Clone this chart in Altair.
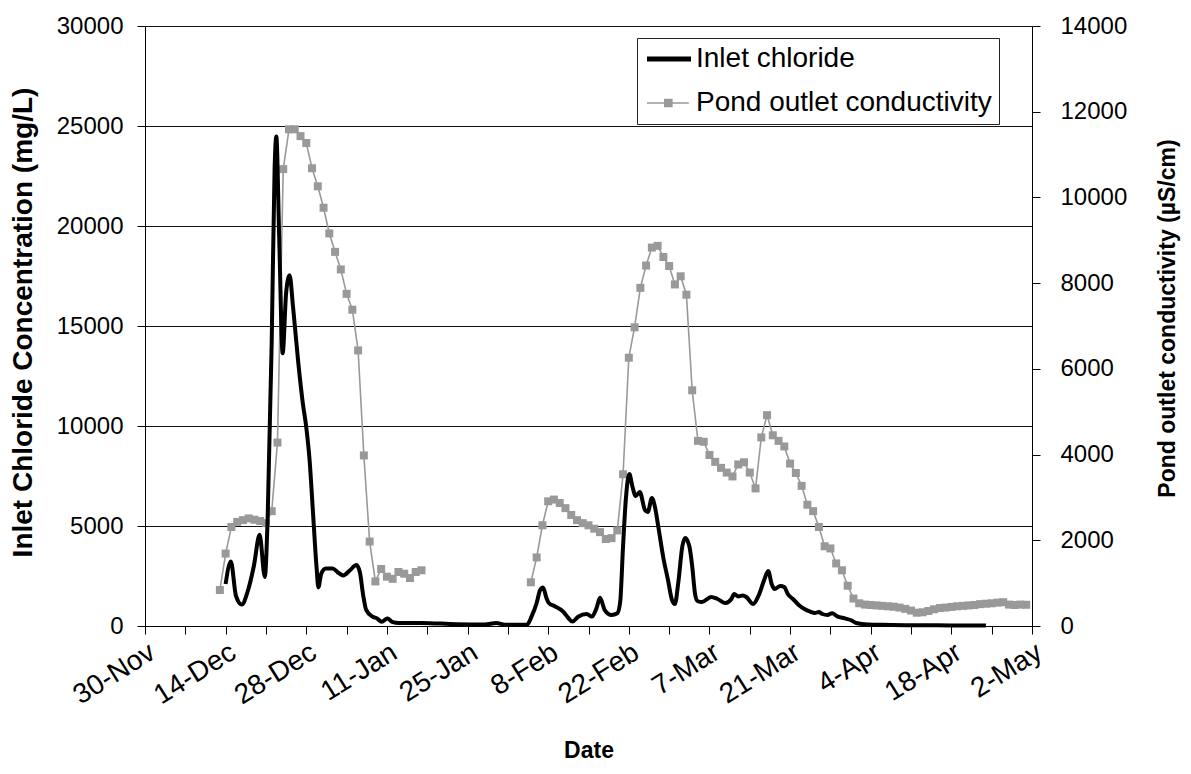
import altair as alt
import pandas as pd

# Day offsets are counted from 30-Nov-2007 (day 0); the span runs to 2-May-2008 (day 154)
T0_MS = 1196380800000  # 30-Nov-2007 00:00 UTC

SERIES = ["Inlet chloride", "Pond outlet conductivity"]

# Inlet chloride concentration (mg/L), smoothed line
chl_day = [14.0, 14.9, 15.8, 16.8, 17.8, 18.9, 19.9, 20.8, 21.3, 22.0,
           22.5, 22.8, 23.3, 23.9, 24.5, 25.1, 25.7, 26.6, 27.4, 28.0,
           28.6, 29.1, 29.8, 30.1, 30.6, 31.4, 32.6, 33.4, 34.4, 35.6,
           36.7, 37.3, 37.9, 38.4, 39.5, 40.3, 41.1, 42.1, 42.9, 44.1,
           48.0, 54.0, 59.0, 61.0, 62.5, 66.3, 67.1, 68.0, 68.6, 69.1,
           69.7, 70.1, 71.2, 72.6, 73.5, 74.2, 75.2, 76.7, 77.6, 78.4,
           79.0, 79.8, 81.0, 82.0, 82.5, 83.0, 83.5, 84.1, 84.6, 85.2,
           85.9, 86.8, 87.3, 88.0, 88.5, 89.1, 90.0, 90.8, 91.5, 92.0,
           92.6, 93.3, 93.8, 94.5, 95.0, 95.5, 95.9, 96.7, 98.3, 99.4,
           100.8, 101.8, 102.3, 103.0, 103.8, 104.4, 105.6, 106.5, 107.5, 108.2,
           108.8, 109.3, 110.3, 111.0, 111.6, 112.5, 113.5, 114.5, 115.5, 116.3,
           117.0, 117.6, 118.5, 119.3, 120.2, 121.5, 122.5, 123.5, 125.0, 128.0,
           133.0, 140.0, 146.0]
chl_val = [2100, 3220, 1500, 1070, 1700, 3000, 4560, 2450, 5460, 14240,
           22850, 24480, 19400, 13640, 16650, 17540, 15960, 13200, 11140, 9940,
           8210, 5980, 2880, 1930, 2620, 2880, 2880, 2700, 2530, 2790,
           3050, 2700, 1500, 810, 465, 380, 210, 380, 210, 155,
           155, 86, 70, 150, 60, 60, 465, 1150, 1800, 1930,
           1400, 1150, 980, 720, 400, 220, 465, 600, 470, 900,
           1410, 810, 550, 640, 1200, 4000, 6400, 7600, 7000, 6500,
           6700, 5800, 5700, 6400, 6000, 5000, 3400, 2300, 1300, 1100,
           2200, 4000, 4400, 4000, 3000, 1600, 1250, 1200, 1450, 1350,
           1150, 1350, 1600, 1480, 1530, 1450, 1100, 1500, 2300, 2750,
           2100, 1850, 2000, 1950, 1600, 1350, 1050, 850, 720, 650,
           700, 600, 550, 640, 480, 380, 300, 150, 90, 60,
           40, 30, 30]

# Pond outlet conductivity (uS/cm), daily readings in two runs
cond1_start = 13
cond1_val = [840, 1690, 2310, 2430, 2470, 2510, 2480, 2450, 2400, 2680,
             4280, 10660, 11590, 11590, 11430, 11270, 10680, 10260, 9760, 9160,
             8730, 8320, 7750, 7380, 6430, 3980, 1970, 1040, 1330, 1150,
             1100, 1260, 1220, 1120, 1260, 1300]
cond2_start = 67
cond2_val = [1020, 1600, 2350, 2910, 2950, 2870, 2750, 2590, 2470, 2400,
             2350, 2270, 2190, 2030, 2050, 2230, 3540, 6260, 6970, 7890,
             8410, 8830, 8870, 8610, 8400, 7970, 8160, 7730, 5500, 4320,
             4300, 3990, 3830, 3690, 3580, 3490, 3770, 3820, 3580, 3210,
             4400, 4920, 4450, 4320, 4190, 3790, 3570, 3270, 2830, 2680,
             2310, 1860, 1810, 1460, 1300, 940, 640, 530, 500, 490,
             480, 470, 460, 450, 430, 400, 360, 310, 320, 350,
             390, 420, 430, 445, 460, 470, 480, 490, 510, 520,
             530, 545, 555, 500, 490, 500, 495]

left_ticks = [0, 5000, 10000, 15000, 20000, 25000, 30000]
right_ticks = [0, 2000, 4000, 6000, 8000, 10000, 12000, 14000]
x_ticks = list(range(0, 155, 7))

chl_df = pd.DataFrame({"day": chl_day, "value": chl_val, "series": SERIES[0]})
cond_df = pd.concat([
    pd.DataFrame({"day": [cond1_start + i for i in range(len(cond1_val))],
                  "cond": cond1_val, "seg": 1}),
    pd.DataFrame({"day": [cond2_start + i for i in range(len(cond2_val))],
                  "cond": cond2_val, "seg": 2}),
], ignore_index=True)

FONT = "Liberation Sans"
W, H = 887, 600

x_enc = alt.X(
    "day:Q",
    scale=alt.Scale(domain=[0, 154], nice=False, zero=False),
    axis=alt.Axis(
        values=x_ticks,
        labelExpr=f"datum.value % 14 == 0 ? utcFormat({T0_MS} + datum.value * 86400000, '%-d-%b') : ''",
        labelAngle=328, labelAlign="right", labelBaseline="top",
        labelFontSize=28, labelPadding=4, labelFont=FONT, labelColor="black",
        tickSize=8, tickColor="black", domainColor="black", grid=False,
        labelOverlap=False,
        title="Date", titleFont=FONT, titleFontSize=23, titleFontWeight="bold",
        titleX=W / 2, titleY=124, titleBaseline="middle", titleAlign="center",
    ),
)

y_left = alt.Y(
    "value:Q",
    scale=alt.Scale(domain=[0, 30000], nice=False),
    axis=alt.Axis(
        orient="left", values=left_ticks, format="d",
        grid=True, gridColor="#111111", gridWidth=1,
        labelFontSize=24, labelFont=FONT, labelColor="black", labelPadding=14,
        tickSize=8, tickColor="black", domainColor="black",
        title="Inlet Chloride Concentration (mg/L)", titleFont=FONT,
        titleFontSize=28, titleFontWeight="bold", titleAngle=270,
        titleX=-122, titleY=H / 2 - 4, titleAlign="center", titleBaseline="middle",
    ),
)

y_right = alt.Y(
    "cond:Q",
    scale=alt.Scale(domain=[0, 14000], nice=False),
    axis=alt.Axis(
        orient="right", values=right_ticks, format="d", grid=False,
        labelFontSize=24, labelFont=FONT, labelColor="black", labelPadding=20,
        tickSize=8, tickColor="black", domainColor="black",
        title="Pond outlet conductivity (µS/cm)", titleFont=FONT,
        titleFontSize=23, titleFontWeight="bold", titleAngle=270,
        titleX=135, titleY=H / 2 - 8, titleAlign="center", titleBaseline="middle",
    ),
)

chl_line = alt.Chart(chl_df).mark_line(
    color="black", strokeWidth=4, interpolate="monotone"
).encode(x=x_enc, y=y_left)

# legend-only layer (no rows drawn); symbols are custom paths
sym_chl = "M-1,-0.22L3,-0.22L3,0.22L-1,0.22Z"
sym_cond = "M-1,-0.07L2.8,-0.07L2.8,0.07L-1,0.07Z M0.55,-0.38L1.33,-0.38L1.33,0.38L0.55,0.38Z"
leg = alt.Legend(title=None, orient="none", legendX=492, legendY=12,
                 labelFont=FONT, labelFontSize=28, labelColor="black",
                 symbolSize=484, symbolStrokeWidth=0, labelOffset=24,
                 rowPadding=16, padding=7, strokeColor="#222222",
                 fillColor="white", labelLimit=600)
legend_layer = alt.Chart(chl_df).transform_filter("false").mark_point(
    filled=True, opacity=1
).encode(
    x=x_enc, y=y_left,
    color=alt.Color("series:N", scale=alt.Scale(domain=SERIES, range=["#000000", "#999999"]), legend=leg),
    shape=alt.Shape("series:N", scale=alt.Scale(domain=SERIES, range=[sym_chl, sym_cond]), legend=leg),
)

cond_line = alt.Chart(cond_df).mark_line(
    color="#999999", strokeWidth=1.6
).encode(x=x_enc, y=y_right, detail="seg:N")
cond_pts = alt.Chart(cond_df).mark_square(
    color="#999999", size=64, opacity=1
).encode(x=x_enc, y=y_right)

chart = alt.layer(
    alt.layer(cond_line, cond_pts),
    alt.layer(chl_line, legend_layer),
).resolve_scale(y="independent").properties(
    width=W, height=H,
    autosize=alt.AutoSizeParams(type="none"),
    padding={"left": 137, "top": 18, "right": 150, "bottom": 140},
).configure_view(stroke=None).configure(background="white")

chart.save("out.html", embed_options={"renderer": "svg", "actions": False})
